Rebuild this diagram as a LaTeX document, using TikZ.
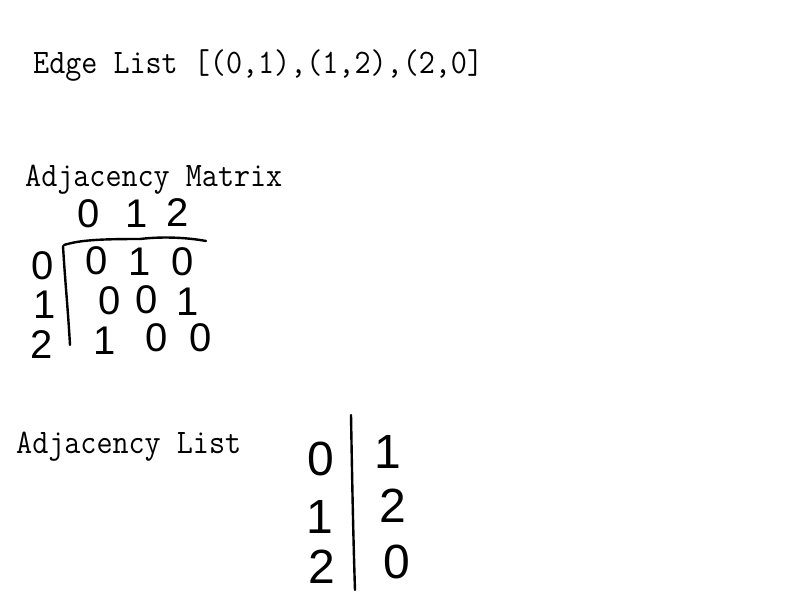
\documentclass[tikz,border=0pt]{standalone}
\usepackage{fontspec}
\setmonofont{Latin Modern Mono}
\newfontfamily\handfont{Liberation Sans}
\tikzset{
  label/.style={anchor=base west, inner sep=0pt, font=\ttfamily\fontsize{31.2}{33}\selectfont},
  hand/.style={inner sep=0pt, font=\handfont\fontsize{40}{40}\selectfont},
  handbig/.style={inner sep=0pt, font=\handfont\fontsize{48}{48}\selectfont},
  stroke/.style={line width=2.4pt, line cap=round, line join=round}
}
\begin{document}
\begin{tikzpicture}[x=1pt, y=-1pt]
\useasboundingbox[fill=white] (0,0) rectangle (800,600);
% titles
\node[label] (edge) at (33,73) {\scalebox{1}[1.1]{Edge List [(0,1),(1,2),(2,0]}};
\node[label] (amat) at (25,186) {\scalebox{1}[1.1]{Adjacency Matrix}};
\node[label] (alist) at (16,453) {\scalebox{1}[1.1]{Adjacency List}};
% matrix header
\node[hand] (h0) at (89,214) {0};
\node[hand] (h1) at (137,214) {1};
\node[hand] (h2) at (178,213) {2};
% matrix rules
\draw[stroke] (64,245) .. controls (80,240) and (100,239) .. (140,239)
  .. controls (165,236) and (190,238) .. (206,241);
\draw[stroke] (63,246) .. controls (65,280) and (68,310) .. (70,345);
% row labels
\node[hand] (r0) at (43,266) {0};
\node[hand] (r1) at (45,305) {1};
\node[hand] (r2) at (42,345) {2};
% entries
\node[hand] (m00) at (97,261) {0};
\node[hand] (m01) at (140,262) {1};
\node[hand] (m02) at (183,262) {0};
\node[hand] (m10) at (110,301) {0};
\node[hand] (m11) at (147,300) {0};
\node[hand] (m12) at (188,302) {1};
\node[hand] (m20) at (105,341) {1};
\node[hand] (m21) at (157,338) {0};
\node[hand] (m22) at (201,338) {0};
% adjacency list
\draw[stroke] (351,415) .. controls (352,470) and (353,530) .. (355,590);
\node[handbig] (l0) at (321,459) {0};
\node[handbig] (l1) at (320,517) {1};
\node[handbig] (l2) at (322,567) {2};
\node[handbig] (v0) at (388,452) {1};
\node[handbig] (v1) at (393,506) {2};
\node[handbig] (v2) at (397,562) {0};
\end{tikzpicture}
\end{document}
